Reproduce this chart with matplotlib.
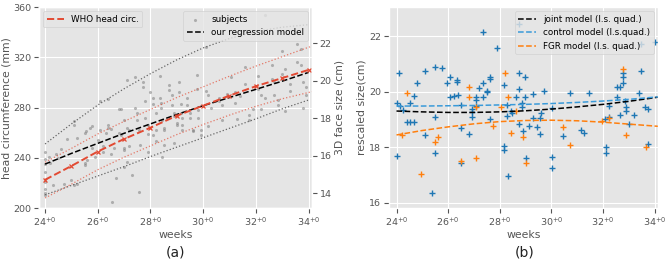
import matplotlib
matplotlib.use("Agg")
import matplotlib.pyplot as plt
import numpy as np

plt.style.use("ggplot")

# ---------------- panel (a) data ----------------
who_weeks = [24, 25, 26, 27, 28, 29, 30, 31, 32, 33, 34]
who_median = [222.5, 233.5, 245, 255, 264, 273.5, 281.5, 289.5, 297, 303.5, 310]
who_pct_weeks = [24, 25, 26, 27, 28, 29, 30, 31, 32, 33, 34, 34.3]
who_upper = [236.5, 247.5, 259, 269, 278.5, 288, 296.5, 305, 313, 320.5, 328, 330]
who_lower = [208, 219, 230.5, 240.5, 249.5, 258.5, 266.5, 274, 281, 287, 292, 293.5]

reg_weeks = [24, 25, 26, 27, 28, 29, 30, 31, 32, 33, 34]
reg_model = [235, 243.5, 251.5, 259.5, 267, 274.5, 281.5, 288, 294.5, 301, 308]
reg_upper = [251, 267, 282, 295, 307, 318, 327.5, 335, 340.5, 344, 346]
reg_lower = [210.5, 218, 225.5, 233, 241, 248.5, 256, 263.5, 271, 279, 286]

subj_weeks = [24.0, 24.0, 24.0, 24.0, 24.0, 24.0, 24.0, 24.0,
              24.15, 24.2, 24.3, 24.4, 24.5, 24.6, 24.7,
              24.85, 25.0, 25.1, 25.1, 25.1, 25.2, 25.2,
              25.5, 25.5, 25.5, 25.6, 25.7, 25.8, 25.9, 25.55, 25.8,
              26.0, 26.1, 26.1, 26.2, 26.2, 26.3,
              26.4, 26.4, 26.4, 26.5, 26.5, 26.55, 26.6,
              26.7, 26.8, 26.8, 26.9, 26.9, 27.0, 27.0, 27.0, 27.0,
              27.1, 27.1, 27.1, 27.2, 27.2, 27.3,
              27.4, 27.4, 27.5, 27.5, 27.55, 27.55, 27.6,
              27.7, 27.7, 27.8, 27.8, 27.9, 27.9, 27.9,
              28.0, 28.1, 28.1, 28.1, 28.2, 28.2, 28.2,
              28.35, 28.35, 28.4, 28.4, 28.45, 28.45, 28.5, 28.5, 28.5,
              28.7, 28.7, 28.8, 28.8, 28.9, 28.9, 28.9, 29.0, 29.0,
              29.1, 29.1, 29.15, 29.15, 29.2, 29.2, 29.2,
              29.4, 29.4, 29.5, 29.5, 29.6, 29.6,
              29.75, 29.75, 29.8, 29.8, 29.9, 29.9,
              30.1, 30.1, 30.2, 30.2, 30.3,
              30.6, 30.6, 30.7, 30.7, 30.9,
              31.05, 31.2, 31.2, 31.3, 31.4,
              31.6, 31.6, 31.75, 31.75, 31.9,
              32.1, 32.1, 32.2, 32.2, 32.35, 32.35,
              32.6, 32.6, 32.7, 32.7, 32.85, 32.85,
              33.0, 33.0, 33.1, 33.1, 33.3, 33.3,
              33.55, 33.55, 33.7, 33.7, 33.8, 33.8, 33.9, 33.9]
subj_hc = [245, 239, 235, 229, 221, 215, 212, 210,
           241, 236, 218, 243, 240, 247, 219,
           255, 222, 269, 266, 218, 219, 256,
           260, 236, 234, 238, 264, 248, 241, 261, 265,
           254, 285, 262, 245, 249, 260,
           287, 266, 264, 263, 243, 205, 248,
           224, 279, 260, 279, 258, 248, 246, 233, 270,
           302, 264, 237, 262, 249, 226,
           304, 280, 276, 270, 262, 213, 250,
           300, 296, 285, 272, 266, 259, 245,
           292, 288, 283, 258, 276, 262, 253,
           305, 288, 284, 280, 270, 241, 264, 262, 250,
           298, 294, 290, 282, 276, 273, 252, 268, 266,
           300, 292, 283, 276, 272, 266, 262,
           288, 282, 276, 272, 262, 261,
           306, 295, 278, 272, 262, 258,
           328, 293, 290, 265, 280,
           288, 285, 282, 270, 291,
           304, 292, 284, 271, 289,
           312, 299, 274, 270, 279,
           305, 295, 290, 279, 288, 354,
           314, 303, 300, 290, 282, 286,
           325, 307, 311, 277, 299, 293,
           331, 316, 327, 314, 300, 280, 296, 290]

# ---------------- panel (b) data ----------------
model_weeks = [24, 25, 26, 27, 28, 29, 30, 31, 32, 33, 34, 34.3]
joint_model = [19.30, 19.27, 19.25, 19.25, 19.27, 19.31, 19.37, 19.45, 19.54, 19.65, 19.78, 19.83]
control_model = [19.48, 19.48, 19.49, 19.50, 19.52, 19.54, 19.57, 19.61, 19.66, 19.72, 19.80, 19.83]
fgr_model = [18.44, 18.60, 18.73, 18.84, 18.92, 18.96, 18.97, 18.95, 18.90, 18.83, 18.76, 18.74]

ctrl_weeks = [24.0, 24.0, 24.1, 24.13, 24.25, 24.39, 24.52, 24.52, 24.67, 24.66, 24.8,
              25.09, 25.09, 25.37, 25.5, 25.5, 25.5, 25.78, 25.94, 26.08, 26.08, 26.23,
              26.36, 26.36, 26.39, 26.51, 26.51, 26.51, 26.79, 26.92, 26.92, 26.92,
              27.07, 27.07, 27.07, 27.21, 27.34, 27.34, 27.34, 27.49, 27.49, 27.62,
              27.62, 27.62, 27.91, 28.16, 28.16, 28.16, 28.29, 28.29, 28.31, 28.44,
              28.47, 28.61, 28.73, 28.73, 28.73, 28.73, 28.86, 28.86, 28.89, 28.99,
              28.99, 29.01, 29.15, 29.3, 29.3, 29.43, 29.56, 29.56, 29.58, 29.71,
              30.02, 30.02, 30.02, 30.45, 30.73, 31.14, 31.27, 31.44, 32.07, 32.12,
              32.12, 32.25, 32.25, 32.54, 32.54, 32.67, 32.67, 32.79, 32.79, 32.79,
              32.86, 32.88, 32.88, 32.99, 33.21, 33.39, 33.49, 33.49, 33.62, 33.75,
              33.75, 34.0]
ctrl_size = [19.60, 17.68, 20.68, 19.48, 19.34, 18.92, 18.92, 19.60, 18.92, 19.84, 20.32,
             20.75, 18.45, 16.34, 20.90, 19.10, 17.80, 20.85, 20.32, 20.51, 19.79, 19.84,
             20.36, 20.40, 19.86, 19.53, 18.68, 17.42, 18.47, 19.36, 19.10, 19.26,
             19.79, 19.70, 19.48, 20.12, 19.82, 20.30, 22.14, 20.03, 20.00, 20.51,
             20.46, 19.01, 21.57, 20.24, 18.04, 17.90, 19.50, 19.12, 16.98, 19.31,
             19.24, 19.82, 20.66, 20.10, 18.83, 22.43, 19.58, 19.43, 18.59, 20.51,
             19.82, 17.60, 18.76, 19.91, 19.04, 18.71, 19.04, 18.47, 19.24, 20.03,
             17.66, 17.26, 19.40, 18.40, 19.96, 18.62, 18.50, 19.96, 19.00, 18.02,
             17.80, 19.48, 19.07, 20.15, 19.79, 20.15, 19.16, 20.32, 20.51, 20.68,
             19.67, 19.31, 19.43, 18.83, 19.16, 19.94, 20.75, 21.71, 19.43, 19.36,
             18.11, 21.78]

fgr_weeks = [24.23, 24.39, 24.93, 25.5, 25.62, 26.51, 26.79, 26.79, 27.07, 27.07,
             27.74, 28.04, 28.19, 28.31, 28.44, 28.61, 28.89, 29.01, 30.45, 30.73,
             31.97, 32.25, 32.79, 32.88, 33.68]
fgr_size = [18.44, 19.94, 17.03, 18.20, 18.38, 17.51, 20.15, 19.79, 19.43, 17.60,
            18.76, 19.46, 20.68, 19.79, 18.50, 19.30, 18.38, 17.44, 18.71, 18.08,
            18.95, 19.04, 20.80, 18.44, 17.99]

week_ticks = [24, 26, 28, 30, 32, 34]
week_ticklabels = [r"$24^{+0}$", r"$26^{+0}$", r"$28^{+0}$", r"$30^{+0}$", r"$32^{+0}$", r"$34^{+0}$"]

# ---------------- figure ----------------
fig = plt.figure(figsize=(6.68, 2.63), dpi=100)
ax1 = fig.add_axes([0.058, 0.209, 0.409, 0.764])
ax2 = fig.add_axes([0.582, 0.209, 0.403, 0.764])

red = "#E24A33"
TICK = 6.8
LAB = 7.8
LEG = 6.3

# WHO percentiles
ax1.plot(who_pct_weeks, who_upper, ":", color=red, lw=0.9, alpha=0.7)
ax1.plot(who_pct_weeks, who_lower, ":", color=red, lw=0.9, alpha=0.7)
# regression bounds
ax1.plot(reg_weeks, reg_upper, ":", color="#666666", lw=0.9)
ax1.plot(reg_weeks, reg_lower, ":", color="#666666", lw=0.9)
# subjects
sc = ax1.scatter(subj_weeks, subj_hc, s=5, color="#777777", alpha=0.5, lw=0, label="subjects")
regl, = ax1.plot(reg_weeks, reg_model, "--", color="black", lw=1.1, label="our regression model")
whol, = ax1.plot(who_weeks, who_median, "--", color=red, lw=1.4, label="WHO head circ.")
ax1.plot(who_weeks, who_median, "x", color=red, ms=3, mew=0.9)

ax1.set_xlim(23.76, 34.13)
ax1.set_ylim(200, 360)
ax1.set_yticks([200, 240, 280, 320, 360])
ax1.set_xticks(week_ticks)
ax1.set_xticklabels(week_ticklabels)
ax1.tick_params(labelsize=TICK, pad=2)
ax1.set_xlabel("weeks", fontsize=LAB, labelpad=1)
ax1.set_ylabel("head circumference (mm)", fontsize=LAB, labelpad=1)

leg1 = ax1.legend(handles=[whol], loc="upper left", fontsize=LEG)
ax1.add_artist(leg1)
ax1.legend(handles=[sc, regl], loc="upper right", fontsize=LEG)

ax1t = ax1.twinx()
ax1t.set_ylim(13.2, 23.94)
ax1t.set_yticks([14, 16, 18, 20, 22])
ax1t.grid(False)
ax1t.tick_params(labelsize=TICK, pad=2)
ax1t.set_ylabel("3D face size (cm)", fontsize=LAB, labelpad=2)

# panel b
ax2.scatter(ctrl_weeks, ctrl_size, marker="+", s=16, color="#1f77b4", lw=1.0)
ax2.scatter(fgr_weeks, fgr_size, marker="+", s=16, color="#ff7f0e", lw=1.0)
ax2.plot(model_weeks, joint_model, "--", color="black", lw=1.1, label="joint model (l.s. quad.)")
ax2.plot(model_weeks, control_model, "--", color="#3a9ad9", lw=1.1, label="control model (l.s.quad.)")
ax2.plot(model_weeks, fgr_model, "--", color="#ff7f0e", lw=1.1, label="FGR model (l.s. quad.)")
ax2.set_xlim(23.7, 34.13)
ax2.set_ylim(15.81, 23.04)
ax2.set_yticks([16, 18, 20, 22])
ax2.set_xticks(week_ticks)
ax2.set_xticklabels(week_ticklabels)
ax2.tick_params(labelsize=TICK, pad=2)
ax2.set_xlabel("weeks", fontsize=LAB, labelpad=1)
ax2.set_ylabel("rescaled size(cm)", fontsize=LAB, labelpad=2)
ax2.legend(loc="upper right", fontsize=LEG)

fig.text(0.262, 0.04, "(a)", fontsize=10, ha="center", va="center", color="#222222")
fig.text(0.785, 0.04, "(b)", fontsize=10, ha="center", va="center", color="#222222")

fig.savefig("out.png", dpi=100)
